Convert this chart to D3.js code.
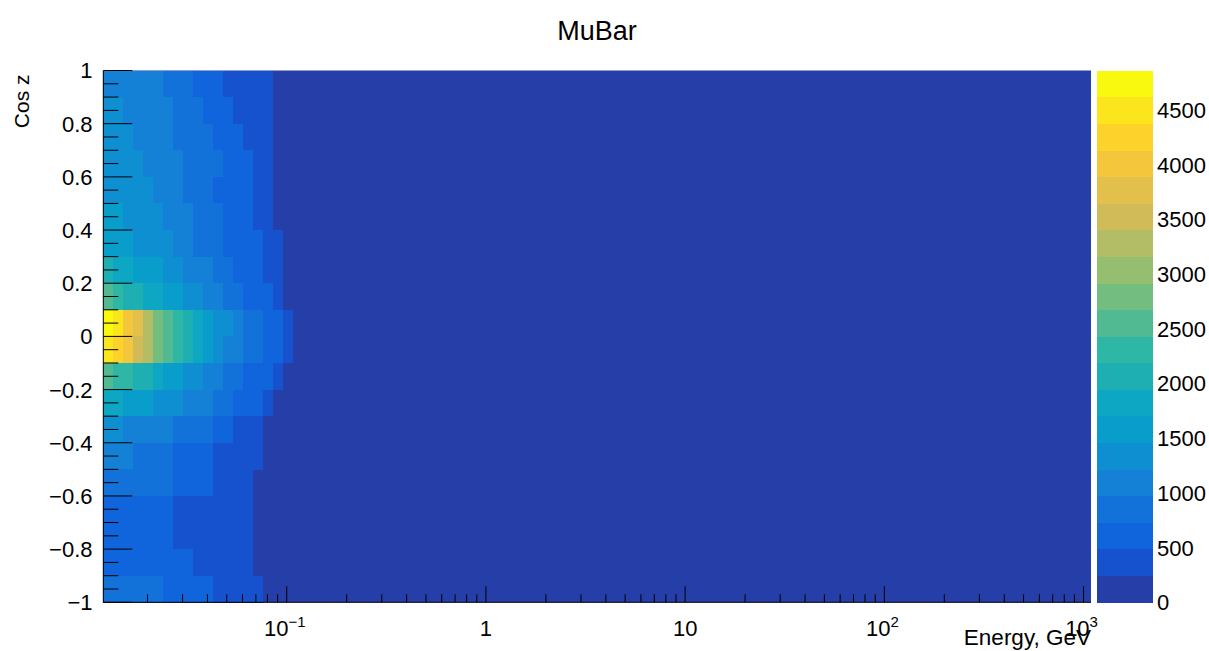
<!DOCTYPE html>
<html><head><meta charset="utf-8">
<script src="https://cdn.jsdelivr.net/npm/d3@7"></script>
<style>
body{margin:0;background:#fff}
text{font-family:"Liberation Sans",Arial,Helvetica,sans-serif;fill:#000}
</style>
</head><body>
<svg id="c" width="1209" height="651"></svg>
<script>
// ---------------- data ----------------
const chartTitle = "MuBar";
const xTitle = "Energy, GeV";
const yTitle = "Cos z";
const xRange = [0.012, 1090];          // axis range (GeV, log)
const xBinLogFirst = -1.92;            // log10 of first bin low edge
const xBinLogWidth = 0.05;             // bin width in decades
const yRange = [-1, 1];
const yBinWidth = 0.1;
// upper edge of each cos z bin (top row first)
const cosBinTop = [1.0,0.9,0.8,0.7,0.6,0.5,0.4,0.3,0.2,0.1,0.0,-0.1,-0.2,-0.3,-0.4,-0.5,-0.6,-0.7,-0.8,-0.9];
// counts of the leading energy bins for each cos z row (remaining bins are below the first contour)
const counts = [
 [1090,1090,1090,1090,1090,1090,850,850,850,610,610,610,360,360,360,360,360],
 [1340,1340,1090,1090,1090,1090,1090,850,850,850,610,610,610,360,360,360,360],
 [1340,1340,1340,1090,1090,1090,1090,850,850,850,850,610,610,610,360,360,360],
 [1340,1340,1340,1340,1090,1090,1090,1090,850,850,850,850,610,610,610,360,360],
 [1340,1340,1340,1340,1340,1090,1090,1090,850,850,850,610,610,610,610,360,360],
 [1580,1580,1340,1340,1340,1340,1090,1090,1090,850,850,850,610,610,610,360,360],
 [1580,1580,1580,1340,1340,1340,1340,1090,1090,850,850,850,610,610,610,610,360,360],
 [2070,1820,1820,1580,1580,1580,1340,1340,1090,1090,1090,850,850,610,610,610,360,360],
 [2550,2310,2070,2070,1820,1820,1580,1580,1340,1340,1090,1090,850,850,610,610,610,360],
 [4860,4500,4010,3770,3280,2790,2550,2310,2070,1820,1580,1340,1340,1090,850,850,610,610,360],
 [4500,4250,4010,3520,3280,2790,2550,2310,2070,1820,1580,1340,1090,1090,850,850,610,610,360],
 [2550,2310,2310,2070,2070,1820,1580,1580,1340,1340,1090,1090,850,850,610,610,610,360],
 [1820,1820,1580,1580,1580,1340,1340,1340,1090,1090,1090,850,850,610,610,610,360],
 [1340,1340,1090,1090,1090,1090,1090,850,850,850,850,610,610,360,360,360],
 [1090,1090,1090,850,850,850,850,610,610,610,610,360,360,360,360,360],
 [850,850,850,850,850,850,850,610,610,610,610,360,360,360,360],
 [610,610,610,610,610,610,610,360,360,360,360,360,360,360,360],
 [610,610,610,610,610,610,610,360,360,360,360,360,360,360,360],
 [610,610,610,610,610,610,610,610,610,360,360,360,360,360,360],
 [850,850,850,850,850,850,610,610,610,610,610,360,360,360,360,360]
];
const nContours = 20;
const zTicks = [0,500,1000,1500,2000,2500,3000,3500,4000,4500];
const yTicks = [-1,-0.8,-0.6,-0.4,-0.2,0,0.2,0.4,0.6,0.8,1];
const xMajorTicks = [0.1,1,10,100,1000];
const xMajorLabels = [["10","\u22121"],["1",""],["10",""],["10","2"],["10","3"]];

// ROOT kBird palette stops
const birdStops = [0.0,0.125,0.25,0.375,0.5,0.625,0.75,0.875,1.0];
const birdR = [0.2082,0.0592,0.0780,0.0232,0.1802,0.5301,0.8186,0.9956,0.9764];
const birdG = [0.1664,0.3599,0.5041,0.6419,0.7178,0.7492,0.7328,0.7862,0.9832];
const birdB = [0.5293,0.8684,0.8385,0.7914,0.6425,0.4662,0.3499,0.1968,0.0539];

// ---------------- layout ----------------
const svg = d3.select("#c");
const F = {l:103.3, r:1091, t:70.5, b:602.3};
const P = {l:1097, r:1153};

const x = d3.scaleLog().domain(xRange).range([F.l, F.r]);
const y = d3.scaleLinear().domain(yRange).range([F.b, F.t]);

// build 255-colour gradient table like TColor::CreateGradientColorTable
const NC = 255;
const palette = [];
for (let g = 0; g < birdStops.length-1; g++) {
  const a = Math.floor(birdStops[g]*NC), b = Math.floor(birdStops[g+1]*NC), n = b-a;
  for (let c = 0; c < n; c++) {
    const f = c/n;
    palette.push(d3.rgb(
      255*(birdR[g]+f*(birdR[g+1]-birdR[g])),
      255*(birdG[g]+f*(birdG[g+1]-birdG[g])),
      255*(birdB[g]+f*(birdB[g+1]-birdB[g]))).formatHex());
  }
}
const zMax = d3.max(counts.flat());
const z = d3.scaleLinear().domain([0, zMax]).range([0, nContours]);
function levelColor(lv){
  let ci = Math.floor((lv+0.99)*NC/nContours);
  if (ci > NC-1) ci = NC-1;
  return palette[ci];
}
function countColor(v){ return levelColor(Math.floor(0.01+z(v))); }

// frame background = bins below first contour
svg.append("rect").attr("x",F.l).attr("y",F.t).attr("width",F.r-F.l).attr("height",F.b-F.t)
  .attr("fill",levelColor(0));

// cells
const cells = [];
counts.forEach((row,ri)=>row.forEach((v,ci)=>{
  cells.push({x0:Math.pow(10,xBinLogFirst+ci*xBinLogWidth), x1:Math.pow(10,xBinLogFirst+(ci+1)*xBinLogWidth),
              yTop:cosBinTop[ri], yBot:cosBinTop[ri]-yBinWidth, v});
}));
svg.append("g").selectAll("rect").data(cells).join("rect")
  .attr("x",d=>x(d.x0)).attr("width",d=>x(d.x1)-x(d.x0)+0.3)
  .attr("y",d=>y(d.yTop)).attr("height",d=>y(d.yBot)-y(d.yTop)+0.3)
  .attr("fill",d=>countColor(d.v)).attr("shape-rendering","crispEdges");

// ---------------- axes ----------------
const ax = svg.append("g").attr("stroke","#000").attr("stroke-width",1);
ax.append("line").attr("x1",F.l).attr("x2",F.l).attr("y1",F.t).attr("y2",F.b);
ax.append("line").attr("x1",F.l).attr("x2",F.r).attr("y1",F.b).attr("y2",F.b);

// y ticks
const yMinor = d3.range(-1, 1.0001, 0.05);
yMinor.forEach(v=>{
  const major = Math.abs(Math.round(v*5)-v*5) < 1e-6;
  ax.append("line").attr("x1",F.l).attr("x2",F.l+(major?29:15))
    .attr("y1",y(v)).attr("y2",y(v));
});
const fmtY = v => (v<0?"\u2212":"") + (Math.abs(v)===1||v===0 ? String(Math.abs(v)) : Math.abs(v).toFixed(1));
svg.append("g").selectAll("text").data(yTicks).join("text")
  .attr("x",92.5).attr("y",d=>y(d)).attr("dy","0.36em").attr("text-anchor","end")
  .attr("font-size",22).text(fmtY);

// x ticks (log)
const xMinor = [];
for (let e = -2; e <= 3; e++) for (let m = 1; m <= 9; m++) {
  const v = m*Math.pow(10,e);
  if (v >= xRange[0] && v <= xRange[1]) xMinor.push({v, major:m===1});
}
xMinor.forEach(t=>{
  ax.append("line").attr("x1",x(t.v)).attr("x2",x(t.v))
    .attr("y1",F.b).attr("y2",F.b-(t.major?16:8));
});
const xl = svg.append("g").selectAll("text").data(xMajorTicks).join("text")
  .attr("x",(d,i)=>x(d) - (xMajorLabels[i][1] ? 2 : 0)).attr("y",636)
  .attr("text-anchor","middle").attr("font-size",22);
xl.append("tspan").text((d,i)=>xMajorLabels[i][0]);
xl.append("tspan").attr("dy",-9).attr("font-size",15).text((d,i)=>xMajorLabels[i][1]);

// titles
svg.append("text").attr("x",597).attr("y",40).attr("text-anchor","middle")
  .attr("font-size",27).text(chartTitle);
svg.append("text").attr("x",F.r).attr("y",645).attr("text-anchor","end")
  .attr("font-size",22.5).text(xTitle);
svg.append("text").attr("transform",`translate(29,${F.t+4}) rotate(-90)`).attr("text-anchor","end")
  .attr("font-size",21).text(yTitle);

// ---------------- palette axis ----------------
const zy = d3.scaleLinear().domain([0, zMax]).range([F.b, F.t]);
const levels = d3.range(nContours);
svg.append("g").selectAll("rect").data(levels).join("rect")
  .attr("x",P.l).attr("width",P.r-P.l)
  .attr("y",d=>zy((d+1)*zMax/nContours)).attr("height",d=>zy(d*zMax/nContours)-zy((d+1)*zMax/nContours)+0.3)
  .attr("fill",d=>levelColor(d)).attr("shape-rendering","crispEdges");
zTicks.forEach(v=>{
  ax.append("line").attr("x1",P.r-28).attr("x2",P.r).attr("y1",zy(v)).attr("y2",zy(v));
});
svg.append("g").selectAll("text").data(zTicks).join("text")
  .attr("x",P.r+4).attr("y",d=>zy(d)).attr("dy","0.36em").attr("font-size",22).text(d=>d);
</script>
</body></html>
